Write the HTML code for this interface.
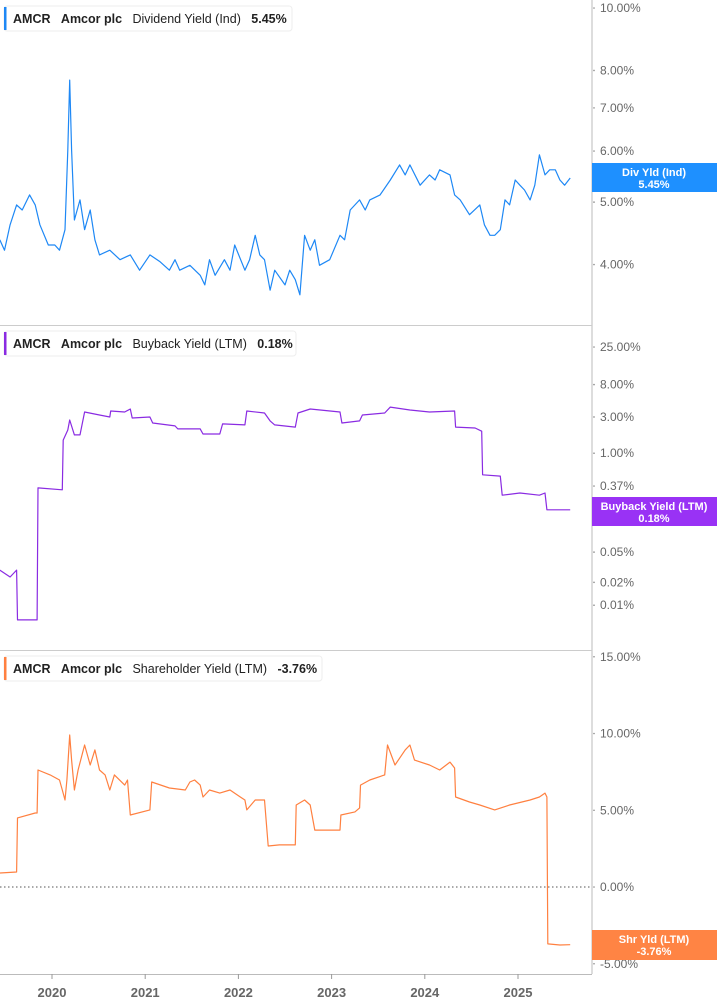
<!DOCTYPE html>
<html><head><meta charset="utf-8"><style>
body{margin:0;background:#fff;}
svg{display:block;font-family:"Liberation Sans",sans-serif;}
</style></head><body>
<svg id="c" width="717" height="1005" viewBox="0 0 717 1005">
<rect width="717" height="1005" fill="#fff"/>
<line x1="592" y1="0" x2="592" y2="974" stroke="#bbb"/>
<line x1="0" y1="325.5" x2="592" y2="325.5" stroke="#ccc"/>
<line x1="0" y1="650.5" x2="592" y2="650.5" stroke="#ccc"/>
<line x1="0" y1="974.5" x2="592" y2="974.5" stroke="#bbb"/>
<line x1="0" y1="887" x2="592" y2="887" stroke="#555" stroke-dasharray="1.5,2.5"/>
<g id="ticks"></g><g id="lines"></g>

<g>
<rect x="4" y="6" width="288" height="25" rx="3" fill="#fff" stroke="#eee"/>
<rect x="4" y="7" width="2.5" height="23" fill="#1e88f5"/>
<text x="13" y="23" font-size="12.5" font-weight="bold" fill="#222">AMCR&#160;&#160;&#160;Amcor plc&#160;&#160;&#160;<tspan font-weight="normal">Dividend Yield (Ind)</tspan>&#160;&#160;&#160;5.45%</text>
</g>
<g>
<rect x="4" y="331" width="292" height="25" rx="3" fill="#fff" stroke="#eee"/>
<rect x="4" y="332" width="2.5" height="23" fill="#8a2be2"/>
<text x="13" y="348" font-size="12.5" font-weight="bold" fill="#222">AMCR&#160;&#160;&#160;Amcor plc&#160;&#160;&#160;<tspan font-weight="normal">Buyback Yield (LTM)</tspan>&#160;&#160;&#160;0.18%</text>
</g>
<g>
<rect x="4" y="656" width="318" height="25" rx="3" fill="#fff" stroke="#eee"/>
<rect x="4" y="657" width="2.5" height="23" fill="#ff8040"/>
<text x="13" y="673" font-size="12.5" font-weight="bold" fill="#222">AMCR&#160;&#160;&#160;Amcor plc&#160;&#160;&#160;<tspan font-weight="normal">Shareholder Yield (LTM)</tspan>&#160;&#160;&#160;-3.76%</text>
</g>
<g id="badges"></g>
</svg>
<script>
const NS="http://www.w3.org/2000/svg";
const years=[2020,2021,2022,2023,2024,2025];
const divTicks=[10,8,7,6,5,4];
const bbTicks=[25,8,3,1,0.37,0.14,0.05,0.02,0.01];
const shTicks=[15,10,5,0,-5];

const divDates=[2019.44,2019.49,2019.55,2019.62,2019.68,2019.76,2019.82,2019.87,2019.96,2020.03,2020.08,2020.14,2020.17,2020.19,2020.21,2020.24,2020.30,2020.35,2020.41,2020.46,2020.51,2020.62,2020.73,2020.84,2020.94,2021.05,2021.16,2021.26,2021.32,2021.37,2021.48,2021.59,2021.64,2021.69,2021.75,2021.85,2021.91,2021.96,2022.07,2022.12,2022.18,2022.23,2022.28,2022.34,2022.39,2022.50,2022.55,2022.61,2022.66,2022.71,2022.77,2022.82,2022.87,2022.98,2023.09,2023.14,2023.20,2023.30,2023.36,2023.41,2023.52,2023.63,2023.73,2023.79,2023.84,2023.95,2024.05,2024.11,2024.16,2024.27,2024.32,2024.38,2024.48,2024.59,2024.64,2024.70,2024.75,2024.81,2024.86,2024.91,2024.97,2025.02,2025.07,2025.13,2025.18,2025.23,2025.29,2025.34,2025.40,2025.45,2025.50,2025.56];
const divValues=[4.37,4.21,4.61,4.95,4.86,5.13,4.95,4.61,4.29,4.29,4.21,4.53,6.02,7.73,6.02,4.69,5.04,4.53,4.86,4.37,4.14,4.21,4.07,4.14,3.92,4.14,4.04,3.92,4.07,3.92,3.99,3.85,3.72,4.07,3.85,4.07,3.92,4.29,3.92,4.07,4.44,4.14,4.07,3.65,3.92,3.72,3.92,3.79,3.59,4.44,4.21,4.37,3.99,4.07,4.44,4.37,4.86,5.04,4.86,5.04,5.13,5.41,5.71,5.51,5.71,5.31,5.51,5.41,5.61,5.51,5.13,5.04,4.78,4.95,4.61,4.44,4.44,4.53,5.04,4.95,5.41,5.31,5.22,5.04,5.31,5.92,5.51,5.61,5.61,5.41,5.31,5.45];

const bbDates=[2019.44,2019.55,2019.62,2019.63,2019.84,2019.85,2020.11,2020.12,2020.17,2020.19,2020.24,2020.30,2020.35,2020.51,2020.62,2020.63,2020.78,2020.84,2020.86,2021.05,2021.08,2021.32,2021.35,2021.59,2021.62,2021.80,2021.83,2022.07,2022.09,2022.28,2022.34,2022.39,2022.61,2022.64,2022.77,2023.09,2023.11,2023.30,2023.33,2023.57,2023.63,2023.84,2024.05,2024.32,2024.33,2024.54,2024.61,2024.62,2024.81,2024.83,2025.02,2025.23,2025.29,2025.31,2025.56];
const bbValues=[0.029,0.0235,0.029,0.0064,0.0064,0.35,0.33,1.49,2.02,2.74,1.74,1.74,3.49,3.18,3.0,3.59,3.49,3.82,2.91,3.0,2.5,2.29,2.09,2.09,1.79,1.79,2.43,2.36,3.59,3.38,2.66,2.36,2.21,3.38,3.82,3.49,2.5,2.66,3.18,3.38,4.05,3.7,3.49,3.59,2.21,2.15,1.95,0.52,0.5,0.28,0.30,0.28,0.30,0.18,0.18];

const shDates=[2019.44,2019.62,2019.63,2019.82,2019.84,2019.85,2019.98,2020.08,2020.11,2020.14,2020.16,2020.19,2020.21,2020.24,2020.28,2020.35,2020.41,2020.46,2020.51,2020.57,2020.62,2020.67,2020.78,2020.81,2020.84,2021.05,2021.07,2021.26,2021.43,2021.48,2021.53,2021.59,2021.62,2021.69,2021.80,2021.91,2022.02,2022.07,2022.09,2022.18,2022.28,2022.32,2022.44,2022.61,2022.62,2022.71,2022.77,2022.82,2022.98,2023.09,2023.10,2023.25,2023.30,2023.31,2023.41,2023.57,2023.60,2023.68,2023.79,2023.84,2023.89,2024.05,2024.16,2024.27,2024.32,2024.33,2024.48,2024.59,2024.75,2024.91,2025.13,2025.23,2025.29,2025.31,2025.32,2025.45,2025.56];
const shValues=[0.91,0.98,4.5,4.82,4.82,7.62,7.3,6.97,6.32,5.67,6.97,9.9,8.27,6.32,7.62,9.25,7.95,8.93,7.62,7.3,6.32,7.3,6.64,6.97,4.69,5.02,6.84,6.45,6.32,6.84,6.97,6.64,5.86,6.32,6.12,6.32,5.86,5.67,5.02,5.67,5.67,2.67,2.74,2.74,5.34,5.67,5.34,3.71,3.71,3.71,4.69,4.89,5.15,6.64,6.97,7.3,9.25,7.95,8.93,9.25,8.27,7.95,7.62,8.14,7.75,5.86,5.54,5.34,5.02,5.34,5.67,5.86,6.12,5.86,-3.71,-3.78,-3.76];

const xS=t=>52+(t-2020)*93.2;
const yDiv=v=>8+280*Math.log(10/v);
const yBb=v=>347+33*Math.log(25/v);
const ySh=v=>887-15.35*v;

const tk=document.getElementById('ticks');
function txt(x,y,s,size,fill,weight,anchor){const t=document.createElementNS(NS,'text');t.setAttribute('x',x);t.setAttribute('y',y);t.setAttribute('font-size',size);t.setAttribute('fill',fill);if(weight)t.setAttribute('font-weight',weight);if(anchor)t.setAttribute('text-anchor',anchor);t.textContent=s;return t;}
function fmt(v){return v.toFixed(2)+'%';}
function yTicks(arr,fn,name){arr.forEach(v=>{const y=fn(v);
const t=txt(600,y+4,fmt(v),12,'#666');


tk.appendChild(t);
const d=document.createElementNS(NS,'circle');d.setAttribute('cx',594);d.setAttribute('cy',y);d.setAttribute('r',0.8);d.setAttribute('fill','#888');


tk.appendChild(d);});}
yTicks(divTicks,yDiv,'dividend-axis');
yTicks(bbTicks,yBb,'buyback-axis');
yTicks(shTicks,ySh,'shareholder-axis');
years.forEach(yr=>{const x=xS(yr);
const l=document.createElementNS(NS,'line');l.setAttribute('x1',x);l.setAttribute('x2',x);l.setAttribute('y1',974);l.setAttribute('y2',979);l.setAttribute('stroke','#999');


tk.appendChild(l);
const t=txt(x,997,String(yr),13,'#666','bold','middle');


tk.appendChild(t);});

const lg=document.getElementById('lines');
function series(dates,vals,fn,color,name){const p=document.createElementNS(NS,'polyline');
p.setAttribute('points',dates.map((d,i)=>xS(d).toFixed(1)+','+fn(vals[i]).toFixed(1)).join(' '));
p.setAttribute('fill','none');p.setAttribute('stroke',color);p.setAttribute('stroke-width','1.2');p.setAttribute('stroke-linejoin','round');


lg.appendChild(p);}
series(divDates,divValues,yDiv,'#1e88f5','dividend-yield-line');
series(bbDates,bbValues,yBb,'#8a2be2','buyback-yield-line');
series(shDates,shValues,ySh,'#ff8040','shareholder-yield-line');

const bg=document.getElementById('badges');
function badge(y,h,color,l1,l2,name){const g=document.createElementNS(NS,'g');


const r=document.createElementNS(NS,'rect');r.setAttribute('x',592);r.setAttribute('y',y);r.setAttribute('width',125);r.setAttribute('height',h);r.setAttribute('fill',color);g.appendChild(r);
g.appendChild(txt(654,y+13,l1,11,'#fff','bold','middle'));
g.appendChild(txt(654,y+25,l2,11,'#fff','bold','middle'));
bg.appendChild(g);}
badge(163,29,'#1e90ff','Div Yld (Ind)','5.45%','dividend-value-badge');
badge(497,29,'#9932f5','Buyback Yield (LTM)','0.18%','buyback-value-badge');
badge(930,30,'#ff8444','Shr Yld (LTM)','-3.76%','shareholder-value-badge');
</script>
</body></html>
